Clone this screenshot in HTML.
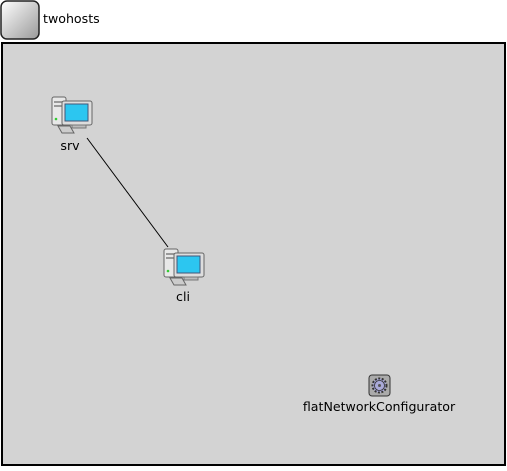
<!DOCTYPE html>
<html><head><style>
body{margin:0;background:#fff;width:507px;height:467px;overflow:hidden;font-family:"DejaVu Sans","Liberation Sans",sans-serif;}
</style></head><body>
<svg width="507" height="467" xmlns="http://www.w3.org/2000/svg" font-family="DejaVu Sans, Liberation Sans, sans-serif" font-size="12.6">
<defs>
<linearGradient id="g" x1="0" y1="0" x2="1" y2="1"><stop offset="0" stop-color="#fff"/><stop offset="1" stop-color="#999"/></linearGradient>
<g id="pc">
<rect x="0" y="0" width="14" height="28" rx="2" fill="#e8e8e8" stroke="#666"/>
<rect x="2" y="4" width="10" height="2" fill="#999"/>
<rect x="2" y="8" width="10" height="2" fill="#999"/>
<circle cx="4" cy="22" r="1.3" fill="#3c3"/>
<rect x="10" y="4" width="30" height="24" rx="2" fill="#ddd" stroke="#666"/>
<rect x="13" y="7" width="23" height="17" fill="#2cc6f0" stroke="#457"/>
<rect x="20" y="28" width="14" height="3" fill="#bbb" stroke="#777"/>
<polygon points="6,29 18,29 22,36 10,36" fill="#ccc" stroke="#666"/>
</g>
</defs>
<rect x="1" y="1" width="38" height="38" rx="6" fill="url(#g)" stroke="#222" stroke-width="1.5"/>
<text x="43" y="23" fill="#000">twohosts</text>
<rect x="2" y="43" width="503" height="422" fill="#d3d3d3" stroke="#000" stroke-width="2"/>
<line x1="87" y1="138" x2="168" y2="247" stroke="#000" stroke-width="1"/>
<use href="#pc" x="52" y="97"/>
<text x="70" y="150" text-anchor="middle">srv</text>
<use href="#pc" x="164" y="249"/>
<text x="183" y="301" text-anchor="middle">cli</text>
<rect x="369" y="375" width="21" height="21" rx="3" fill="#aaa" stroke="#333"/>
<circle cx="379.5" cy="385.5" r="7" fill="#a9a9d9" stroke="#333" stroke-dasharray="2 1.5" stroke-width="2"/>
<circle cx="379.5" cy="385.5" r="5" fill="#a9a9d9" stroke="#333" stroke-width="0.8"/>
<circle cx="379.5" cy="385.5" r="1.5" fill="#555"/>
<text x="379" y="411" text-anchor="middle">flatNetworkConfigurator</text>
</svg>
</body></html>
